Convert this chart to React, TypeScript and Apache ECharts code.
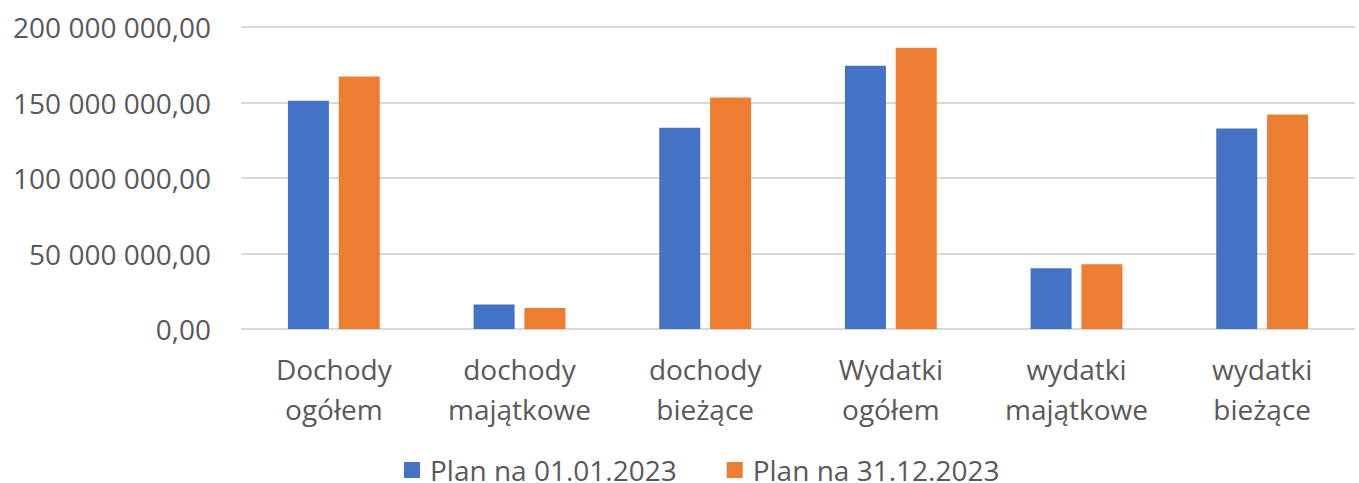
import React, { useEffect, useRef } from "react";
import * as echarts from "echarts";

const categories = [
  "Dochody\nogółem",
  "dochody\nmajątkowe",
  "dochody\nbieżące",
  "Wydatki\nogółem",
  "wydatki\nmajątkowe",
  "wydatki\nbieżące",
];
const seriesNames = ["Plan na 01.01.2023", "Plan na 31.12.2023"];
const planStart = [151100000, 16300000, 133200000, 174400000, 40300000, 132800000];
const planEnd = [167300000, 13900000, 153300000, 186300000, 42900000, 142000000];

const fmt = (v: number) => {
  const s = v.toFixed(2);
  const [int, dec] = s.split(".");
  return int.replace(/\B(?=(\d{3})+(?!\d))/g, " ") + "," + dec;
};

export default function App() {
  const ref = useRef<HTMLDivElement>(null);
  useEffect(() => {
    if (!ref.current) return;
    const chart = echarts.init(ref.current, undefined, { renderer: "svg" });
    const font = "'Open Sans', sans-serif";
    chart.setOption({
      animation: false,
      textStyle: { fontFamily: font },
      grid: { left: 241, right: 4, top: 27, bottom: 154, containLabel: false },
      legend: {
        left: 404,
        top: 456,
        padding: 0,
        itemWidth: 16,
        itemHeight: 16,
        itemGap: 50,
        icon: "rect",
        textStyle: { fontFamily: font, fontSize: 28, color: "#595959", lineHeight: 26, padding: [0, 0, 0, 5] },
        data: seriesNames,
      },
      xAxis: {
        type: "category",
        data: categories,
        axisLine: { show: false },
        axisTick: { show: false },
        axisLabel: {
          fontFamily: font,
          fontSize: 28,
          color: "#595959",
          lineHeight: 40,
          margin: 20,
          interval: 0,
        },
      },
      yAxis: {
        type: "value",
        min: 0,
        max: 200000000,
        interval: 50000000,
        axisLabel: {
          fontFamily: font,
          fontSize: 28,
          color: "#595959",
          margin: 30,
          formatter: (v: number) => fmt(v),
        },
        splitLine: { lineStyle: { color: "#d9d9d9", width: 2 } },
        axisLine: { show: false },
        axisTick: { show: false },
      },
      series: [
        {
          name: seriesNames[0],
          type: "bar",
          data: planStart,
          barWidth: 41,
          barGap: "24%",
          itemStyle: { color: "#4472C4" },
        },
        {
          name: seriesNames[1],
          type: "bar",
          data: planEnd,
          barWidth: 41,
          barGap: "24%",
          itemStyle: { color: "#ED7D31" },
        },
      ],
    });
    return () => chart.dispose();
  }, []);
  return (
    <div
      ref={ref}
      style={{ position: "fixed", left: 0, top: 0, width: 1359, height: 483, background: "#fff" }}
    />
  );
}
